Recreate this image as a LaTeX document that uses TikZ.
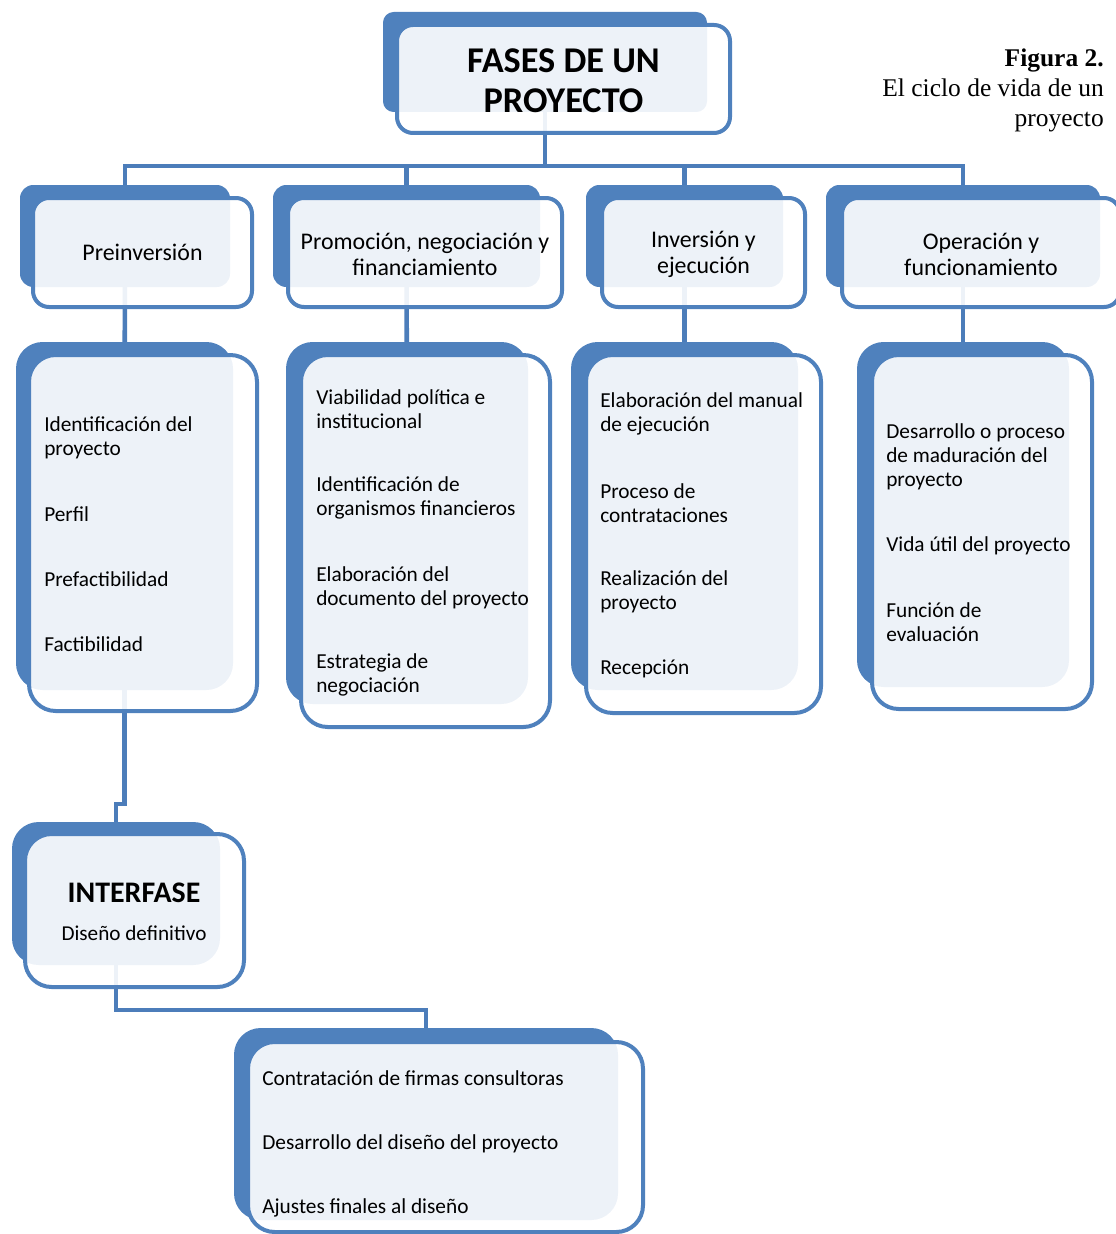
\documentclass[tikz,border=0pt]{standalone}
\usepackage{fontspec}
\setmainfont{Carlito}
\newfontfamily\capfont{Liberation Serif}
\usetikzlibrary{fit,backgrounds}
\definecolor{ablue}{RGB}{79,129,189}
\definecolor{lblue}{RGB}{76,125,186}
\begin{document}
\begin{tikzpicture}[x=0.75pt,y=-0.75pt,
  backbox/.style={draw=none,fill=ablue,rounded corners=#1,inner sep=0pt},
  frontbox/.style={draw=ablue,line width=3pt,fill=white,fill opacity=0.9,draw opacity=1,rounded corners=#1,inner sep=0pt},
  conn/.style={draw=lblue,line width=3.5pt},
  titletext/.style={font=\bfseries\fontsize{27.2}{30}\selectfont,align=center,text=black,yshift=-1.5pt},
  phasetext/.style={font=\fontsize{17.9}{19.5}\selectfont,align=center,text=black,yshift=-1.5pt},
  itemtext/.style={font=\fontsize{16}{18}\selectfont,align=left,anchor=west,inner sep=0pt,text=black,yshift=-1.8pt},
  captext/.style={font=\capfont\fontsize{19.1}{22.5}\selectfont,align=right,anchor=east,inner sep=0pt}
]
\useasboundingbox (0,0) rectangle (1116,1234);
\clip (0,0) rectangle (1116,1234);

% title
\node[backbox=8, fit={(383,12)(707,112)}] (tB) {};
\node[frontbox=12, fit={(397,25)(730,133)}] (tF) {};
\node[titletext] (tT) at (tF.center) {FASES DE UN\\PROYECTO};

% caption
\node[captext] (cap) at (1104,90) {{\bfseries Figura 2.}\\El ciclo de vida de un\\proyecto};

% level 2
\node[backbox=10, fit={(20,185)(230,287)}] (aB) {};
\node[frontbox=12, fit={(33,198)(252,307)}] (aF) {};
\node[phasetext,yshift=1.5pt] (aT) at (aF.center) {Preinversión};

\node[backbox=10, fit={(273,185)(540,287)}] (bB) {};
\node[frontbox=12, fit={(288,198)(562,307)}] (bF) {};
\node[phasetext] (bT) at (bF.center) {Promoción, negociación y\\financiamiento};

\node[backbox=10, fit={(586,185)(783,287)}] (cB) {};
\node[frontbox=12, fit={(602,198)(805,307)}] (cF) {};
\node[phasetext] (cT) at (cF.center) {Inversión y\\ejecución};

\node[backbox=10, fit={(826,185)(1100,287)}] (dB) {};
\node[frontbox=12, fit={(842,198)(1120,307)}] (dF) {};
\node[phasetext] (dT) at (dF.center) {Operación y\\funcionamiento};

% lists
\node[backbox=20, fit={(16,342)(233,690)}] (aLB) {};
\node[frontbox=20, fit={(29,355)(257,711)}] (aLF) {};
\node[itemtext] (a1) at (44,435) {Identificación del\\proyecto};
\node[itemtext] (a2) at (44,512) {Perfil};
\node[itemtext] (a3) at (44,577) {Prefactibilidad};
\node[itemtext] (a4) at (44,642) {Factibilidad};

\node[backbox=20, fit={(286,342)(528,704)}] (bLB) {};
\node[frontbox=20, fit={(301,355)(550,727)}] (bLF) {};
\node[itemtext] (b1) at (316,407) {Viabilidad política e\\institucional};
\node[itemtext] (b2) at (316,496) {Identificación de\\organismos financieros};
\node[itemtext] (b3) at (316,585) {Elaboración del\\documento del proyecto};
\node[itemtext] (b4) at (316,673) {Estrategia de\\negociación};

\node[backbox=20, fit={(571,342)(798,690)}] (cLB) {};
\node[frontbox=20, fit={(586,355)(821,713)}] (cLF) {};
\node[itemtext] (c1) at (600,412) {Elaboración del manual\\de ejecución};
\node[itemtext] (c2) at (600,500.5) {Proceso de\\contrataciones};
\node[itemtext] (c3) at (600,589.5) {Realización del\\proyecto};
\node[itemtext] (c4) at (600,666) {Recepción};

\node[backbox=20, fit={(857,342)(1069,687)}] (dLB) {};
\node[frontbox=20, fit={(872,355)(1092,709)}] (dLF) {};
\node[itemtext] (d1) at (886,454.5) {Desarrollo o proceso\\de maduración del\\proyecto};
\node[itemtext] (d2) at (886,543) {Vida útil del proyecto};
\node[itemtext] (d3) at (886,620) {Función de\\evaluación};

% interfase
\node[backbox=20, fit={(12,822)(220,965)}] (iB) {};
\node[frontbox=20, fit={(25,834)(244,987)}] (iF) {};
\node[font=\bfseries\fontsize{22.4}{25}\selectfont,text=black] (iT) at (134,893) {INTERFASE};
\node[font=\fontsize{15.9}{18}\selectfont,text=black] (iS) at (134,933) {Diseño definitivo};

% bottom
\node[backbox=20, fit={(234,1028)(618,1220)}] (eB) {};
\node[frontbox=20, fit={(248,1042)(643,1232)}] (eF) {};
\node[itemtext] (e1) at (262,1076) {Contratación de firmas consultoras};
\node[itemtext] (e2) at (262,1141) {Desarrollo del diseño del proyecto};
\node[itemtext] (e3) at (262,1206) {Ajustes finales al diseño};

% connectors
\coordinate (busy) at (0,166);
\coordinate (j1) at (0,804);
\coordinate (j2) at (0,1010);
\begin{scope}[on background layer]
\draw[conn] (tB.center) -- (tB.center |- busy);
\draw[conn] (aB.center) -- (aB.center |- busy) -- (dB.center |- busy) -- (dB.center);
\draw[conn] (bB.center |- busy) -- (bB.center);
\draw[conn] (cB.center |- busy) -- (cB.center);
\draw[conn] (aB.center) -- (aLB.center);
\draw[conn] (bB.center) -- (bLB.center);
\draw[conn] (cB.center) -- (cLB.center);
\draw[conn] (dB.center) -- (dLB.center);
\draw[conn] (aLB.center) -- (aLB.center |- j1) -- (iB.center |- j1) -- (iB.center);
\draw[conn] (iB.center) -- (iB.center |- j2) -- (eB.center |- j2) -- (eB.center);
\end{scope}
\end{tikzpicture}
\end{document}
